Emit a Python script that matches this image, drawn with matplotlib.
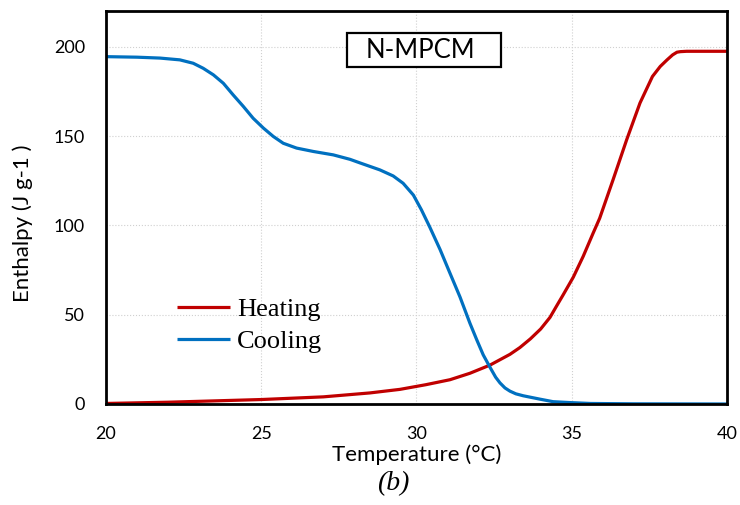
import matplotlib
matplotlib.use("Agg")
from matplotlib import pyplot as plt
from matplotlib.patches import Rectangle

# enthalpy curves (J/g vs degC)
cool_t = [20, 21, 21.74, 22.38, 22.81, 23.13, 23.46, 23.78, 24.1, 24.42, 24.74, 25.07,
          25.39, 25.71, 26.14, 26.68, 27.32, 27.86, 28.18, 28.82, 29.25, 29.57, 29.9,
          30.16, 30.43, 30.76, 31.08, 31.4, 31.72, 31.94, 32.15, 32.37, 32.55, 32.69,
          32.85, 33.01, 33.2, 33.44, 33.98, 34.4, 34.94, 35.6, 37, 40]
cool_h = [194.5, 194.2, 193.7, 192.7, 190.8, 188, 184.3, 179.6, 173, 166.7, 160, 154.5,
          149.8, 146, 143.3, 141.4, 139.5, 137, 135, 131.1, 127.7, 123.6, 117,
          108.7, 99, 86.5, 73.2, 60, 45.3, 36, 27.5, 20.5, 15, 11.8,
          9, 7.2, 5.7, 4.6, 2.7, 1.3, 0.8, 0.3, 0.1, 0]

heat_t = [20, 22, 25, 27, 28.5, 29.47, 30.3, 31.08, 31.72, 32.37, 33.01, 33.33, 33.67,
          34.0, 34.3, 34.5, 34.72, 35.05, 35.37, 35.69, 35.9, 36.33, 36.77, 37.2, 37.6,
          37.85, 38.07, 38.25, 38.39, 38.5, 38.7, 40]
heat_h = [0.3, 1, 2.5, 4, 6.2, 8.2, 10.8, 13.6, 17.2, 21.8, 27.8, 31.6, 36.5,
          42, 48.5, 54.5, 61, 71, 82.7, 95.7, 104, 125.5, 148, 168.6, 183.4,
          189, 192.7, 195.5, 197, 197.3, 197.5, 197.5]

x_ticks = [20, 25, 30, 35, 40]
y_ticks = [0, 50, 100, 150, 200]

plt.rcParams['font.family'] = ['Lato', 'DejaVu Sans']

fig = plt.figure(figsize=(7.4, 5.05), dpi=100)
ax = fig.add_axes([0.1432, 0.2, 0.8392, 0.778])

ax.plot(heat_t, heat_h, color='#c00000', lw=2.3, label='Heating', solid_capstyle='butt')
ax.plot(cool_t, cool_h, color='#0070c0', lw=2.3, label='Cooling', solid_capstyle='butt')

ax.set_xlim(20, 40)
ax.set_ylim(0, 220)
ax.set_xticks(x_ticks)
ax.set_yticks(y_ticks)
ax.tick_params(length=0, labelsize=13, pad=15)
ax.tick_params(axis='x', pad=16)
ax.grid(True, color='#d0d0d0', ls=':', lw=0.8)
ax.set_axisbelow(True)
for s in ax.spines.values():
    s.set_linewidth(2)
    s.set_color('black')

ax.set_xlabel('Temperature (°C)', fontsize=16)
ax.xaxis.set_label_coords(0.5, -0.102)
ax.set_ylabel('Enthalpy (J g-1 )', fontsize=16)
ax.yaxis.set_label_coords(-0.118, 0.46)

# sample name in a framed box
ax.add_patch(Rectangle((0.388, 0.8575), 0.248, 0.0865, transform=ax.transAxes,
                       fc='white', ec='black', lw=1.6, zorder=3))
ax.text(0.506, 0.9, 'N-MPCM', transform=ax.transAxes, ha='center', va='center',
        fontsize=18.5, zorder=4)

leg = ax.legend(loc='center left', bbox_to_anchor=(0.115, 0.2), frameon=False,
                prop={'family': 'Liberation Serif', 'size': 19},
                handlelength=2.0, handletextpad=0.25, labelspacing=0.3,
                borderpad=0, borderaxespad=0)

fig.text(0.532, 0.042, '(b)', ha='center', va='center', fontsize=20,
         family='Liberation Serif', style='italic')

fig.savefig('out.png', dpi=100)
